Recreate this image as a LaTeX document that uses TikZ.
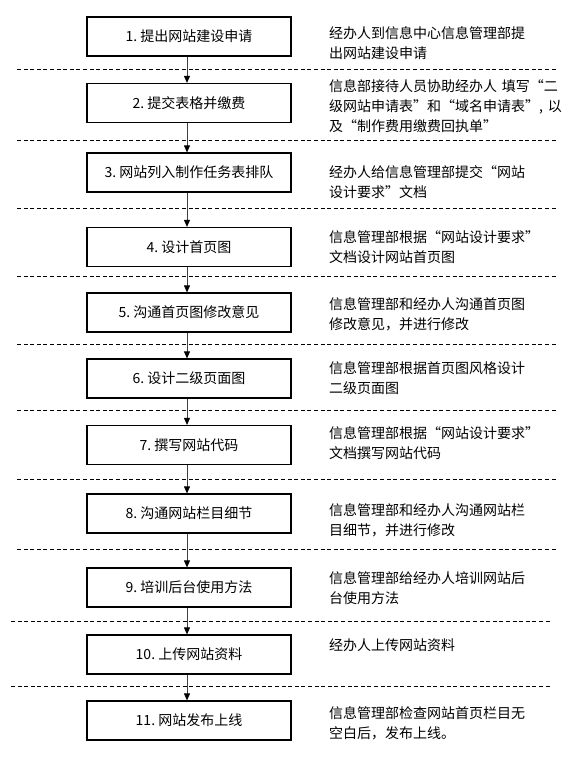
\documentclass[tikz,border=0pt]{standalone}
\usepackage{fontspec}
\setmainfont{Noto Sans CJK SC}
\usetikzlibrary{arrows.meta}
\begin{document}
\begin{tikzpicture}[x=1pt,y=-1pt,
  stepbox/.style={draw=black,line width=1.2pt,minimum width=204pt,minimum height=39pt,inner sep=0pt,font=\fontsize{14}{20}\selectfont},
  desc/.style={anchor=base west,inner sep=0pt,text width=240pt,align=left,font=\fontsize{14}{20}\selectfont},
  flow/.style={draw=black!75,line width=0.9pt,-{Triangle[length=7pt,width=6pt,color=black]}},
  sep/.style={draw=black,line width=0.9pt,dash pattern=on 4pt off 2.6pt}]
\useasboundingbox (0,0) rectangle (571,758);

% separators
\foreach \yy/\xa/\xb in {69/17/556,140/17/556,208/17/556,276/17/556,344/17/556,410/17/556,479/17/556,549/17/556,621/11/552,686/11/552}
  \draw[sep] (\xa,\yy) -- (\xb,\yy);

% step boxes
\node[stepbox] (b1)  at (189,36.5)  {1.\ 提出网站建设申请};
\node[stepbox] (b2)  at (189,103)   {2.\ 提交表格并缴费};
\node[stepbox] (b3)  at (189,172.5) {3.\ 网站列入制作任务表排队};
\node[stepbox] (b4)  at (189,247)   {4.\ 设计首页图};
\node[stepbox] (b5)  at (189,312.5) {5.\ 沟通首页图修改意见};
\node[stepbox] (b6)  at (189,378.5) {6.\ 设计二级页面图};
\node[stepbox] (b7)  at (189,445)   {7.\ 撰写网站代码};
\node[stepbox] (b8)  at (189,513.5) {8.\ 沟通网站栏目细节};
\node[stepbox] (b9)  at (189,587.5) {9.\ 培训后台使用方法};
\node[stepbox] (b10) at (189,654.5) {10.\ 上传网站资料};
\node[stepbox] (b11) at (189,720.5) {11.\ 网站发布上线};

% arrows
\foreach \a/\b in {b1/b2,b2/b3,b3/b4,b4/b5,b5/b6,b6/b7,b7/b8,b8/b9,b9/b10,b10/b11}
  \draw[flow] ([xshift=-2pt]\a.south) -- ([xshift=-2pt]\b.north);

% descriptions
\node[desc] (d1)  at (329,38.6)  {经办人到信息中心信息管理部提\\出网站建设申请};
\node[desc] (d2)  at (329,91.5)  {信息部接待人员协助经办人 填写“二\\级网站申请表”和“域名申请表”, 以\\及“制作费用缴费回执单”};
\node[desc] (d3)  at (329,177)   {经办人给信息管理部提交“网站\\设计要求”文档};
\node[desc] (d4)  at (329,242)   {信息管理部根据“网站设计要求”\\文档设计网站首页图};
\node[desc] (d5)  at (329,309.3) {信息管理部和经办人沟通首页图\\修改意见，并进行修改};
\node[desc] (d6)  at (329,373.6) {信息管理部根据首页图风格设计\\二级页面图};
\node[desc] (d7)  at (329,438.6) {信息管理部根据“网站设计要求”\\文档撰写网站代码};
\node[desc] (d8)  at (329,515.3) {信息管理部和经办人沟通网站栏\\目细节，并进行修改};
\node[desc] (d9)  at (329,583.6) {信息管理部给经办人培训网站后\\台使用方法};
\node[desc] (d10) at (329,650.3) {经办人上传网站资料};
\node[desc] (d11) at (329,718.6) {信息管理部检查网站首页栏目无\\空白后，发布上线。};
\end{tikzpicture}
\end{document}
